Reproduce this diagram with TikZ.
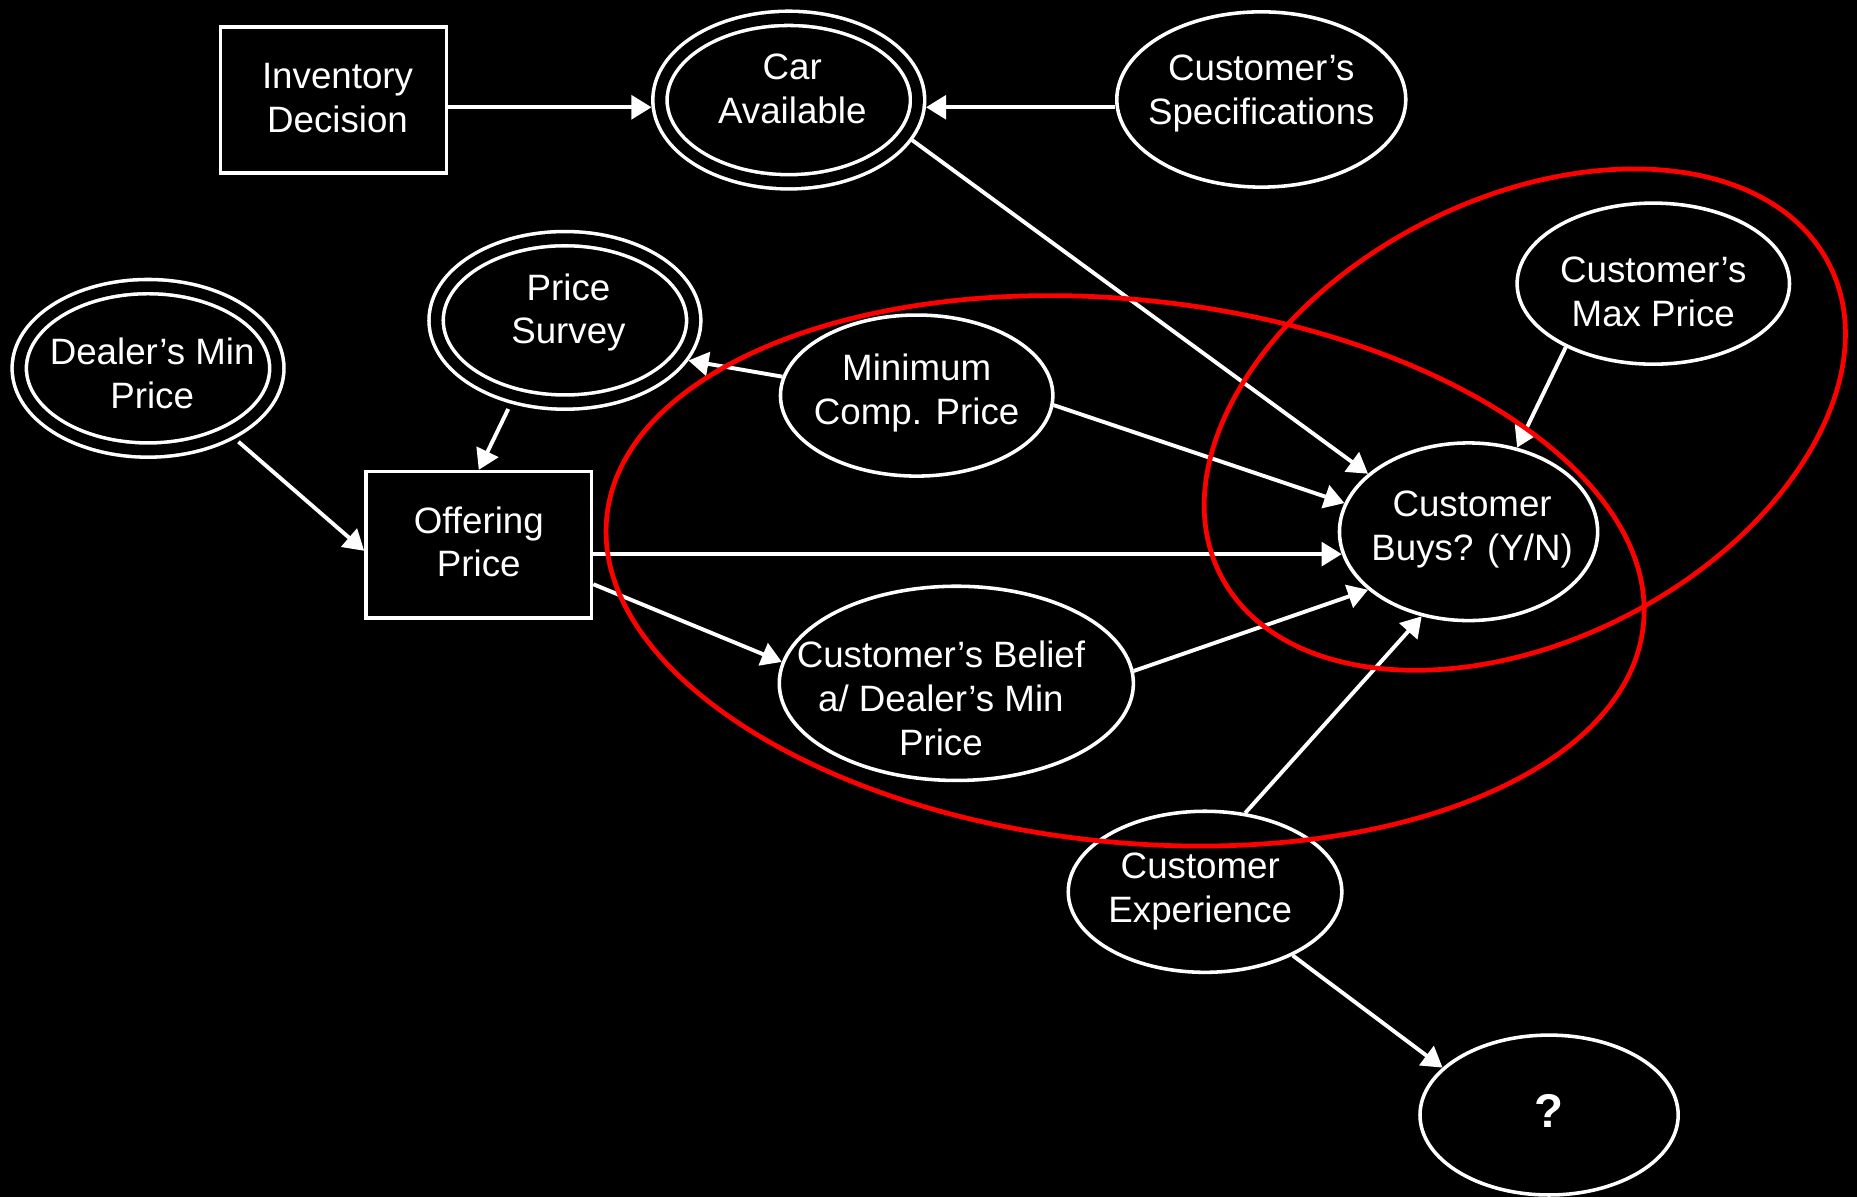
\documentclass[tikz,border=0pt]{standalone}
\usepackage{fontspec}
\setmainfont{Liberation Sans}
\usetikzlibrary{shapes.geometric,arrows.meta}
\begin{document}
\begin{tikzpicture}[x=1pt,y=-1pt,
  txt/.style={text=white, draw=none, align=center, font=\fontsize{31}{37}\selectfont, inner sep=0pt},
  ell/.style={ellipse, draw=white, line width=3pt, inner sep=0pt},
  dbl/.style={ellipse, draw=white, line width=3pt, double=black, double distance=9pt, inner sep=0pt, outer sep=7.5pt, minimum width=217.5pt, minimum height=138pt},
  box/.style={rectangle, draw=white, line width=3pt, inner sep=0pt},
  arr/.style={draw=white, line width=3.3pt, -{Triangle[length=17pt,width=20pt]}},
  grp/.style={draw=red, line width=4pt}
]
\fill[black] (0,0) rectangle (1568,1011);
\useasboundingbox (0,0) rectangle (1568,1011);

% nodes
\node[box, minimum width=191pt, minimum height=123pt, label={[txt,xshift=3.5pt,yshift=1.5pt]center:{Inventory\\Decision}}] (inv) at (281.5,84.5) {};
\node[dbl, label={[txt,xshift=3pt,yshift=9.3pt]center:{Car\\Available}}] (car) at (666,84.5) {};
\node[ell, minimum width=244pt, minimum height=148pt, label={[txt,yshift=5.4pt]center:{Customer’s\\Specifications}}] (spec) at (1065,84) {};
\node[dbl, label={[txt,xshift=3.5pt,yshift=-4.3pt]center:{Dealer’s Min\\Price}}] (dealer) at (125,311) {};
\node[dbl, label={[txt,xshift=3pt,yshift=6.6pt]center:{Price\\Survey}}] (survey) at (477,270.5) {};
\node[ell, minimum width=230pt, minimum height=136pt, label={[txt,yshift=2.1pt]center:{Minimum\\Comp. Price}}] (mincomp) at (774,334) {};
\node[ell, minimum width=230pt, minimum height=136pt, label={[txt,yshift=-7pt]center:{Customer’s\\Max Price}}] (max) at (1396,239.5) {};
\node[box, minimum width=190.5pt, minimum height=123.5pt, label={[txt,yshift=2.5pt]center:{Offering\\Price}}] (off) at (404.25,460) {};
\node[ell, minimum width=218pt, minimum height=150pt, label={[txt,xshift=3pt,yshift=2.2pt]center:{Customer\\Buys? (Y/N)}}] (buys) at (1240,449) {};
\node[ell, minimum width=299pt, minimum height=164pt, label={[txt,xshift=-13pt,yshift=-12.7pt]center:{Customer’s Belief\\a/ Dealer’s Min\\Price}}] (belief) at (807.5,577) {};
\node[ell, minimum width=231pt, minimum height=136pt, label={[txt,xshift=-4pt]center:{Customer\\Experience}}] (exp) at (1017.5,753) {};
\node[ell, minimum width=218pt, minimum height=135pt, label={[txt,yshift=3.8pt,font=\fontsize{40}{40}\selectfont\bfseries]center:{?}}] (q) at (1308,941.5) {};

% connectors
\draw[arr] (inv.east |- car.183.5) -- (car.183.5);
\draw[arr] (spec.west |- car.-3.2) -- (car.-3.2);
\draw[arr] (car.-18.2) -- (buys.150.4);
\draw[arr] (mincomp.-4.8) -- (buys.167.8);
\draw[arr] (off.east |- buys.190.9) -- (buys.190.9);
\draw[arr] (belief.4.8) -- (buys.210.3);
\draw[arr] (exp.63.4) -- (buys.241.5);
\draw[arr] (max.216.2) -- (buys.60.2);
\draw[arr] (exp.-36) -- (q.156.9);
\draw[arr, shorten <=4pt] (dealer.-39.2) -- (off.183.5);
\draw[arr, shorten <=5pt] (survey.237.5) -- (off.north);
\draw[arr] (mincomp.172.1) -- (survey.-18);
\draw[arr] (off.-19.3) -- (belief.173);

% red grouping ellipses
\draw[grp, rotate around={-6:(950,482)}] (950,482) ellipse [x radius=440pt, y radius=229pt];
\draw[grp, rotate around={27:(1287.5,354.3)}] (1287.5,354.3) ellipse [x radius=288.5pt, y radius=186.6pt];
\end{tikzpicture}
\end{document}
